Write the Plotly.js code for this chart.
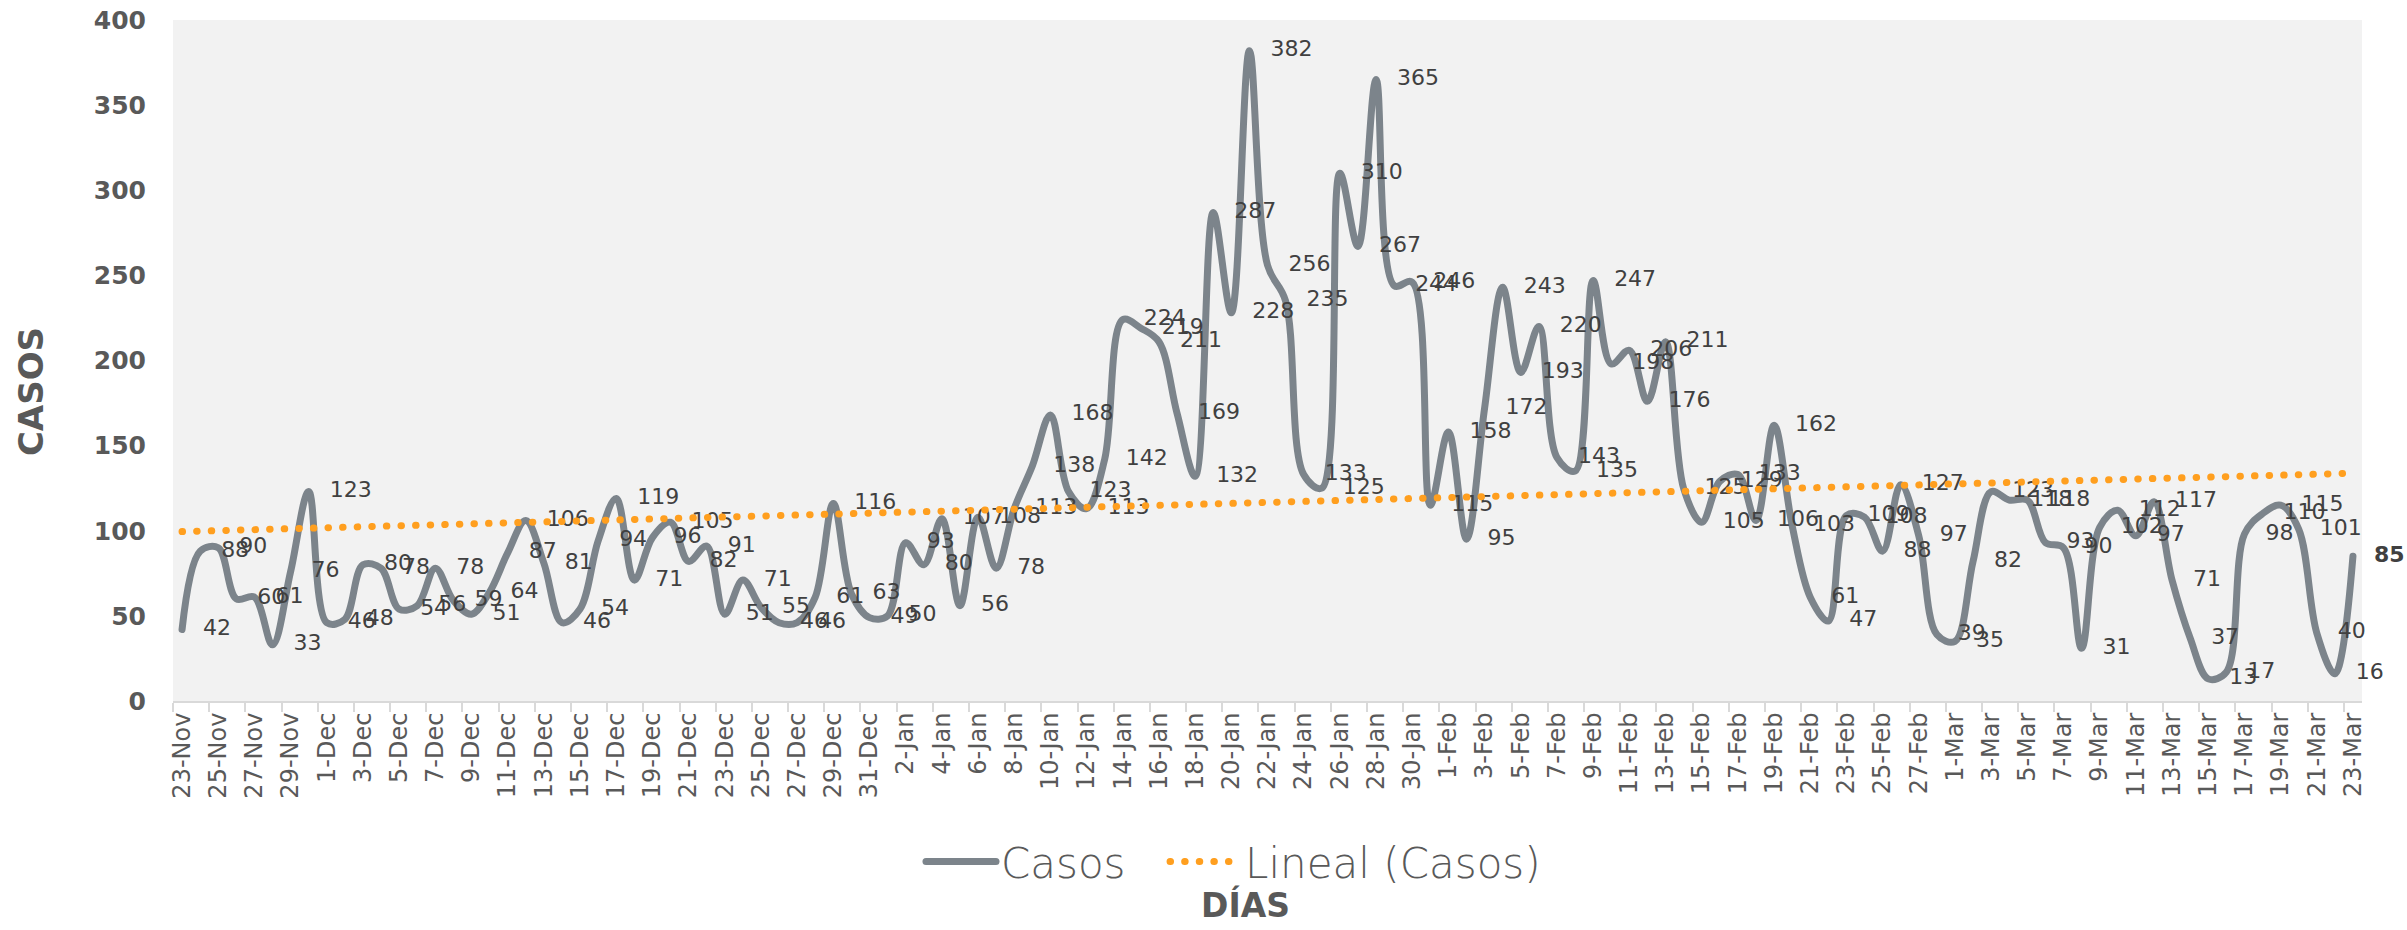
<!DOCTYPE html>
<html>
<head>
<meta charset="utf-8">
<script src="https://cdn.plot.ly/plotly-3.0.1.min.js"></script>
<style>
  html, body { margin: 0; padding: 0; background: #ffffff; }
  #chart { width: 2407px; height: 930px; }
  .js-line { stroke-linecap: round; stroke-linejoin: round; }
</style>
</head>
<body>
<div id="chart"></div>
<script>
// Categories (days)
const dias = [
  '23-Nov','24-Nov','25-Nov','26-Nov','27-Nov','28-Nov','29-Nov','30-Nov',
  '1-Dec','2-Dec','3-Dec','4-Dec','5-Dec','6-Dec','7-Dec','8-Dec','9-Dec','10-Dec',
  '11-Dec','12-Dec','13-Dec','14-Dec','15-Dec','16-Dec','17-Dec','18-Dec','19-Dec','20-Dec',
  '21-Dec','22-Dec','23-Dec','24-Dec','25-Dec','26-Dec','27-Dec','28-Dec','29-Dec','30-Dec','31-Dec',
  '1-Jan','2-Jan','3-Jan','4-Jan','5-Jan','6-Jan','7-Jan','8-Jan','9-Jan','10-Jan',
  '11-Jan','12-Jan','13-Jan','14-Jan','15-Jan','16-Jan','17-Jan','18-Jan','19-Jan','20-Jan',
  '21-Jan','22-Jan','23-Jan','24-Jan','25-Jan','26-Jan','27-Jan','28-Jan','29-Jan','30-Jan','31-Jan',
  '1-Feb','2-Feb','3-Feb','4-Feb','5-Feb','6-Feb','7-Feb','8-Feb','9-Feb','10-Feb',
  '11-Feb','12-Feb','13-Feb','14-Feb','15-Feb','16-Feb','17-Feb','18-Feb','19-Feb','20-Feb',
  '21-Feb','22-Feb','23-Feb','24-Feb','25-Feb','26-Feb','27-Feb','28-Feb',
  '1-Mar','2-Mar','3-Mar','4-Mar','5-Mar','6-Mar','7-Mar','8-Mar','9-Mar','10-Mar',
  '11-Mar','12-Mar','13-Mar','14-Mar','15-Mar','16-Mar','17-Mar','18-Mar','19-Mar','20-Mar',
  '21-Mar','22-Mar','23-Mar'
];

// Daily cases
const casos = [
  42, 88, 90, 60, 61, 33, 76, 123,
  46, 48, 80, 78, 54, 56, 78, 59, 51, 64,
  87, 106, 81, 46, 54, 94, 119, 71, 96, 105,
  82, 91, 51, 71, 55, 46, 46, 61, 116, 63, 49,
  50, 93, 80, 107, 56, 108, 78, 113, 138, 168,
  123, 113, 142, 224, 219, 211, 169, 132, 287, 228,
  382, 256, 235, 133, 125, 310, 267, 365, 244, 246, 115,
  158, 95, 172, 243, 193, 220, 143, 135, 247, 198,
  206, 176, 211, 125, 105, 129, 133, 106, 162, 103,
  61, 47, 109, 108, 88, 127, 97, 39,
  35, 82, 123, 118, 118, 93, 90, 31, 102, 112,
  97, 117, 71, 37, 13, 17, 98, 110, 115, 101,
  40, 16, 85
];

// Linear trend line ("Lineal (Casos)") end values
const tendencia = [99.5, 133.8];

const grisLinea = '#7c848b';
const naranja = '#ff9f1f';
const textoGris = '#595959';
const fuente = 'DejaVu Sans, sans-serif';

const etiquetas = casos.map((v, i) => i === casos.length - 1 ? '<b>' + v + '</b>' : String(v));

const trazaCasos = {
  type: 'scatter',
  mode: 'lines+markers+text',
  name: 'Casos',
  legend: 'legend',
  x: dias,
  y: casos,
  text: etiquetas,
  textposition: 'middle right',
  textfont: { family: fuente, size: 22, color: '#404040' },
  line: { color: grisLinea, width: 7, shape: 'spline', smoothing: 1 },
  marker: { size: 32, color: 'rgba(0,0,0,0)' },
  cliponaxis: false,
  hoverinfo: 'x+y'
};

const trazaTendencia = {
  type: 'scatter',
  mode: 'lines',
  name: 'Lineal (Casos)',
  legend: 'legend2',
  x: [dias[0], dias[dias.length - 1]],
  y: tendencia,
  line: { color: naranja, width: 7, dash: '0.5px,14.1px' },
  hoverinfo: 'skip'
};

const leyendaBase = {
  orientation: 'h',
  xanchor: 'left',
  y: -0.236,
  yanchor: 'middle',
  font: { family: fuente, size: 42, color: textoGris, weight: 300 },
  itemwidth: 70,
  bgcolor: 'rgba(0,0,0,0)'
};

const layout = {
  width: 2407,
  height: 930,
  margin: { l: 173, r: 45, t: 20, b: 229, pad: 0 },
  paper_bgcolor: '#ffffff',
  plot_bgcolor: '#f2f2f2',
  font: { family: fuente, color: textoGris },
  showlegend: true,
  legend: Object.assign({}, leyendaBase, { x: 0.3417 }),
  legend2: Object.assign({}, leyendaBase, { x: 0.4532 }),
  xaxis: {
    type: 'category',
    range: [-0.5, dias.length - 0.5],
    tickmode: 'linear',
    tick0: 0,
    dtick: 2,
    tickson: 'boundaries',
    ticks: 'outside',
    ticklen: 9,
    tickwidth: 2,
    tickcolor: '#d9d9d9',
    tickangle: -90,
    tickfont: { family: fuente, size: 24, color: textoGris },
    showline: true,
    linecolor: '#d9d9d9',
    linewidth: 2,
    showgrid: false,
    zeroline: false
  },
  yaxis: {
    range: [0, 400],
    dtick: 50,
    showgrid: false,
    zeroline: false,
    showline: false,
    ticks: '',
    ticklabelstandoff: 26,
    tickfont: { family: fuente, size: 25, color: textoGris, weight: 'bold' }
  },
  annotations: [
    {
      text: 'CASOS',
      xref: 'paper', yref: 'paper',
      x: -0.0649, y: 0.455,
      xanchor: 'center', yanchor: 'middle',
      textangle: -90,
      showarrow: false,
      font: { family: fuente, size: 34, color: textoGris, weight: 'bold' }
    },
    {
      text: 'DÍAS',
      xref: 'paper', yref: 'paper',
      x: 0.4901, y: -0.2996,
      xanchor: 'center', yanchor: 'middle',
      showarrow: false,
      font: { family: fuente, size: 33, color: textoGris, weight: 'bold' }
    }
  ]
};

Plotly.newPlot('chart', [trazaCasos, trazaTendencia], layout, { displayModeBar: false, staticPlot: true });
</script>
</body>
</html>
